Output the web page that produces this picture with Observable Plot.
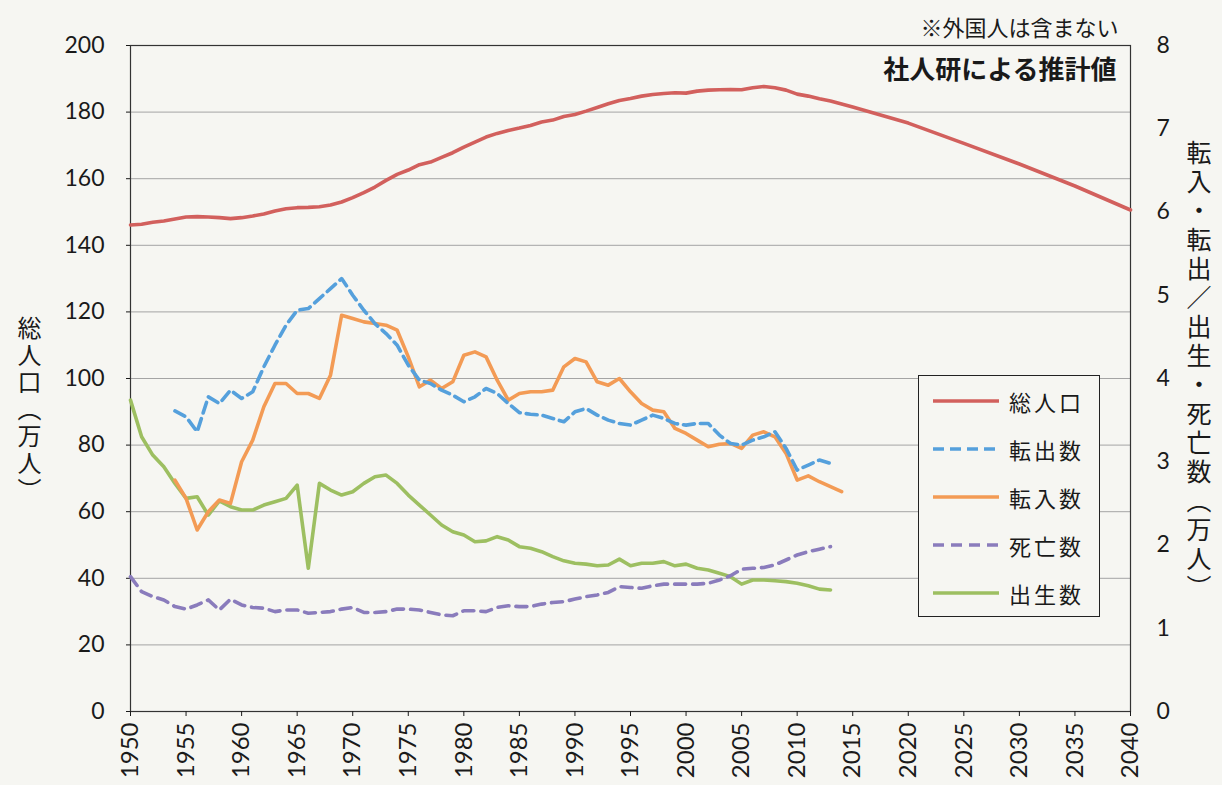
<!DOCTYPE html>
<html><head><meta charset="utf-8">
<script src="https://cdn.jsdelivr.net/npm/d3@7"></script>
<script src="https://cdn.jsdelivr.net/npm/@observablehq/plot@0.6"></script>
<style>
body{margin:0;background:#f6f6f2;}
#wrap{position:relative;width:1222px;height:785px;overflow:hidden;background:#f6f6f2;}
.jp{font-family:"Noto Sans CJK JP","Noto Sans CJK SC",sans-serif;color:#1a1a1a;}
.vlab{position:absolute;writing-mode:vertical-rl;text-orientation:upright;}
#legend{position:absolute;left:918px;top:375px;width:182px;height:242px;border:1.5px solid #222;background:#f6f6f2;box-sizing:border-box;}
#legend .row{position:absolute;left:12px;height:30px;display:flex;align-items:center;}
#legend .row span{font-size:22px;letter-spacing:3px;margin-left:8px;}
</style></head>
<body><div id="wrap"></div>
<script>
// ---- data ----
const histYears = d3.range(1950, 2014);           // 1950–2013
const totalPopHist = [146.1,146.3,146.9,147.3,147.9,148.5,148.6,148.5,148.3,148.0,
  148.3,148.8,149.4,150.3,151.0,151.3,151.4,151.6,152.1,153.0,
  154.3,155.8,157.5,159.5,161.3,162.6,164.2,165.0,166.4,167.8,
  169.5,171.0,172.5,173.6,174.5,175.2,176.0,177.0,177.6,178.7,
  179.3,180.3,181.4,182.5,183.5,184.1,184.8,185.3,185.6,185.8,
  185.7,186.3,186.6,186.7,186.8,186.7,187.3,187.7,187.3,186.6,
  185.4,184.8,184.0,183.3];
const projYears = [2015, 2020, 2025, 2030, 2035, 2040];
const totalPopProj = [181.5, 176.7, 170.6, 164.4, 157.8, 150.6];

const outYears = d3.range(1954, 2014);            // 転出数 1954–2013 (万人)
const outMigr = [3.61,3.54,3.36,3.78,3.70,3.86,3.76,3.84,4.14,4.40,
  4.64,4.82,4.84,4.96,5.08,5.20,5.00,4.82,4.66,4.54,
  4.40,4.16,3.98,3.94,3.86,3.80,3.72,3.78,3.88,3.82,
  3.70,3.59,3.57,3.56,3.52,3.48,3.60,3.64,3.56,3.50,
  3.46,3.44,3.50,3.56,3.52,3.46,3.44,3.46,3.46,3.32,
  3.22,3.20,3.26,3.30,3.36,3.16,2.90,2.96,3.02,2.98];

const inYears = d3.range(1954, 2015);             // 転入数 1954–2014 (万人)
const inMigr = [2.78,2.56,2.18,2.40,2.54,2.50,3.00,3.26,3.66,3.94,
  3.94,3.82,3.82,3.76,4.04,4.76,4.72,4.68,4.66,4.64,
  4.58,4.26,3.90,3.98,3.88,3.96,4.28,4.32,4.26,3.98,
  3.74,3.82,3.84,3.84,3.86,4.14,4.24,4.20,3.96,3.92,
  4.00,3.84,3.70,3.62,3.60,3.40,3.34,3.26,3.18,3.21,
  3.22,3.16,3.32,3.36,3.30,3.10,2.78,2.83,2.76,2.70,2.64];

const deaths = [1.62,1.44,1.38,1.34,1.26,1.23,1.28,1.34,1.22,1.35,   // 死亡数 1950–2013
  1.28,1.25,1.24,1.20,1.22,1.22,1.18,1.19,1.20,1.23,
  1.25,1.19,1.19,1.20,1.23,1.23,1.22,1.19,1.16,1.15,
  1.21,1.21,1.20,1.25,1.27,1.26,1.26,1.29,1.31,1.32,
  1.35,1.38,1.40,1.43,1.50,1.49,1.48,1.51,1.53,1.53,
  1.53,1.53,1.54,1.58,1.63,1.71,1.72,1.73,1.76,1.82,
  1.88,1.92,1.95,1.98];

const births = [3.74,3.30,3.08,2.94,2.74,2.56,2.58,2.36,2.53,2.46,   // 出生数 1950–2013
  2.42,2.42,2.48,2.52,2.56,2.72,1.72,2.74,2.66,2.60,
  2.64,2.74,2.82,2.84,2.74,2.60,2.48,2.36,2.24,2.16,
  2.12,2.04,2.05,2.10,2.06,1.98,1.96,1.92,1.86,1.81,
  1.78,1.77,1.75,1.76,1.83,1.75,1.78,1.78,1.80,1.75,
  1.77,1.72,1.70,1.66,1.62,1.53,1.58,1.58,1.57,1.56,
  1.54,1.51,1.47,1.46];

const xTicks = d3.range(1950, 2041, 5);
const leftTicks = [0,20,40,60,80,100,120,140,160,180,200];
const rightTicks = [0,1,2,3,4,5,6,7,8];
const ratio = 25; // right axis (万人) → left axis scale

const seriesNames = ["総人口","転出数","転入数","死亡数","出生数"];
const seriesColors = ["#d2605d","#55a0dc","#f39b55","#8a7cbc","#9dbf61"];
const seriesDash = [null,"11,6",null,"11,7",null];

// ---- tables ----
const popTable = histYears.map((y,i)=>({year:y, v:totalPopHist[i]}))
  .concat(projYears.map((y,i)=>({year:y, v:totalPopProj[i]})));
const outTable = outYears.map((y,i)=>({year:y, v:outMigr[i]}));
const inTable = inYears.map((y,i)=>({year:y, v:inMigr[i]}));
const deathTable = histYears.map((y,i)=>({year:y, v:deaths[i]}));
const birthTable = histYears.map((y,i)=>({year:y, v:births[i]}));

const lineOpts = (k, right) => ({
  x: "year", y: right ? d => d.v * ratio : "v",
  stroke: seriesColors[k], strokeWidth: 3.6,
  strokeDasharray: seriesDash[k] || undefined, strokeLinejoin: "round"
});

const chart = Plot.plot({
  width: 1222, height: 785,
  marginLeft: 130, marginRight: 92, marginTop: 45, marginBottom: 74,
  style: {background: "transparent", fontFamily: "Lato, 'Open Sans', sans-serif", color: "#1a1a1a", overflow: "visible"},
  x: {domain: [1950, 2040]},
  y: {domain: [0, 200]},
  marks: [
    Plot.gridY(leftTicks, {stroke: "#a4a4a4", strokeOpacity: 1, strokeWidth: 1}),
    Plot.frame({stroke: "#333", strokeWidth: 1.2}),
    Plot.axisY(leftTicks, {anchor: "left", tickSize: 4, tickPadding: 22, label: null, fontSize: 23, tickFormat: d => String(d)}),
    Plot.axisY(rightTicks.map(d => d * ratio), {anchor: "right", tickSize: 0, tickPadding: 26, label: null, fontSize: 23, tickFormat: d => String(d / ratio)}),
    Plot.axisX(xTicks, {anchor: "bottom", tickRotate: -90, tickSize: 5, tickPadding: 6, label: null, fontSize: 24, tickFormat: d => String(d)}),
    Plot.line(birthTable, lineOpts(4, true)),
    Plot.line(deathTable, lineOpts(3, true)),
    Plot.line(inTable, lineOpts(2, true)),
    Plot.line(outTable, lineOpts(1, true)),
    Plot.line(popTable, lineOpts(0, false)),
    Plot.text(["社人研による推計値"], {frameAnchor: "top-right", dx: -14, dy: 15, fontSize: 26, fontWeight: "bold", fontFamily: "Noto Sans CJK JP", textAnchor: "end", lineAnchor: "top", fill: "#1a1a1a"}),
    Plot.text(["※外国人は含まない"], {frameAnchor: "top-right", dx: -12, dy: -10, fontSize: 22, fontFamily: "Noto Sans CJK JP", textAnchor: "end", lineAnchor: "bottom", fill: "#1a1a1a"})
  ]
});

const wrap = document.getElementById("wrap");
wrap.appendChild(chart);

// vertical axis titles
const lt = document.createElement("div");
lt.className = "jp vlab";
lt.style.cssText += "left:12px;top:316px;font-size:24px;letter-spacing:3px;";
lt.textContent = "総人口（万人）";
wrap.appendChild(lt);

const rt = document.createElement("div");
rt.className = "jp vlab";
rt.style.cssText += "left:1181px;top:140px;font-size:25px;letter-spacing:4px;";
rt.textContent = "転入・転出／出生・死亡数（万人）";
wrap.appendChild(rt);

// legend
const lg = document.createElement("div");
lg.id = "legend"; lg.className = "jp";
const rowTops = [10, 58, 106, 154, 202];
seriesNames.forEach((name, k) => {
  const r = document.createElement("div");
  r.className = "row"; r.style.top = rowTops[k] + "px";
  r.innerHTML = `<svg width="70" height="10"><line x1="2" x2="68" y1="5" y2="5" stroke="${seriesColors[k]}" stroke-width="3.6" ${seriesDash[k] ? `stroke-dasharray="${seriesDash[k]}"` : ""}/></svg><span>${name}</span>`;
  lg.appendChild(r);
});
wrap.appendChild(lg);
</script>
</body></html>
